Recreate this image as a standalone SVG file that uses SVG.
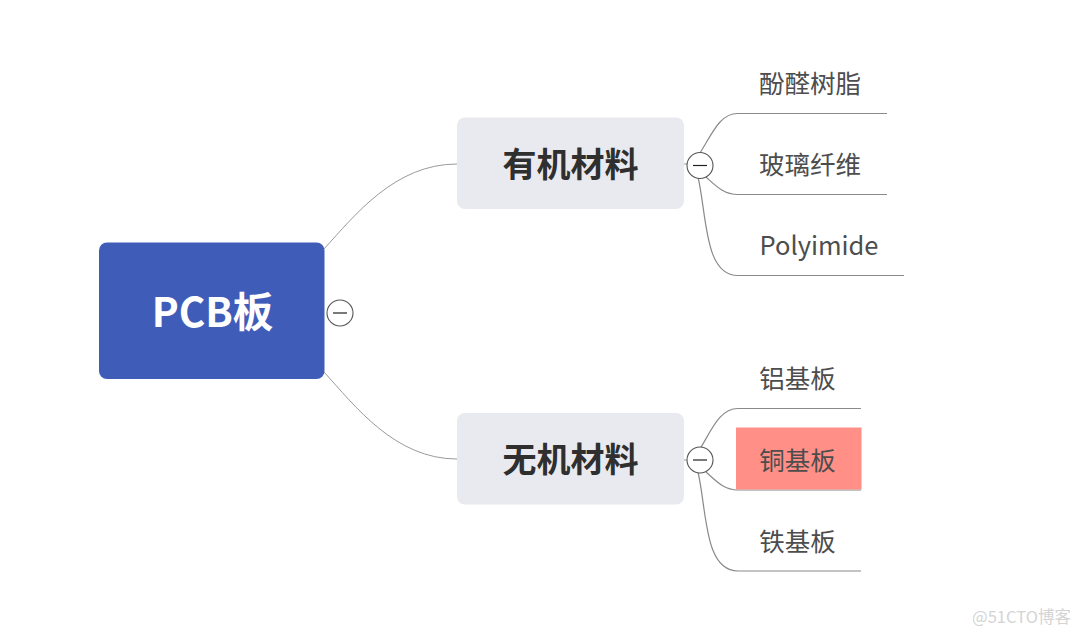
<svg xmlns="http://www.w3.org/2000/svg" width="1080" height="637" viewBox="0 0 1080 637">
<style>
text{font-family:"Noto Sans CJK SC","Noto Sans",sans-serif}
.c{fill:none;stroke:#9a9a9a;stroke-width:1}
.l{fill:none;stroke:#8a8a8a;stroke-width:1.2}
.t{font-size:25.500px;fill:#4d4d4d;text-anchor:middle}
.m{font-size:34px;font-weight:700;fill:#2f2f2f;text-anchor:middle}
.b{fill:#e9eaef}
.k{fill:#fff;stroke:#555;stroke-width:1.1}
.d{stroke:#222;stroke-width:1.2}
</style>
<rect width="1080" height="637" fill="#fff"/>
<g id="connectors">
<path class="c" d="M324 249C355 215 395 164 457 164"/>
<path class="c" d="M324 372C355 406 395 459 457 459"/>
<path class="c" d="M684 164H688"/>
<path class="c" d="M684 460H688"/>
<path class="l" d="M700 153C712 134 720 113 738 113.500H887"/>
<path class="l" d="M706 177C716 186 724 194.500 738 194.500H887"/>
<path class="l" d="M698 177C707 215 704 275.500 738 275.500H904"/>
<path class="l" d="M700 449C712 429 720 408.500 738 408.500H861"/>
<path class="l" d="M706 472C716 481 724 490 738 490H861"/>
<path class="l" d="M698 472C707 511 704 571 738 571H861"/>
</g>
<g id="root"><rect x="99" y="242.500" width="225.500" height="136.500" rx="8" fill="#3f5cb8"/><text x="212.500" y="327" font-size="40.500" font-weight="700" fill="#fff" text-anchor="middle">PCB板</text></g>
<g id="root-toggle"><circle class="k" cx="340" cy="313" r="13"/><path class="d" d="M333 313H347"/></g>
<g id="organic"><rect class="b" x="457" y="117.500" width="227" height="91.500" rx="8"/><text class="m" x="570.500" y="177">有机材料</text></g>
<g id="organic-toggle"><circle class="k" cx="700" cy="165.500" r="13"/><path class="d" d="M693 165.500H707"/></g>
<g id="inorganic"><rect class="b" x="457" y="413" width="227" height="91.500" rx="8"/><text class="m" x="570.500" y="472">无机材料</text></g>
<g id="inorganic-toggle"><circle class="k" cx="700" cy="460" r="13"/><path class="d" d="M693 460H707"/></g>
<g id="phenolic"><text class="t" x="810" y="92.500">酚醛树脂</text></g>
<g id="glass"><text class="t" x="810" y="174">玻璃纤维</text></g>
<g id="polyimide"><text class="t" x="819" y="254.500">Polyimide</text></g>
<g id="aluminum"><text class="t" x="797.500" y="387.500">铝基板</text></g>
<g id="copper"><rect x="736" y="427.500" width="125.500" height="62" fill="#ff8f87"/><text class="t" x="797.500" y="469.500">铜基板</text></g>
<g id="iron"><text class="t" x="797.500" y="550.500">铁基板</text></g>
<text x="1021.500" y="623" font-size="16.500" fill="#d4d4d4" text-anchor="middle">@51CTO博客</text>
</svg>
